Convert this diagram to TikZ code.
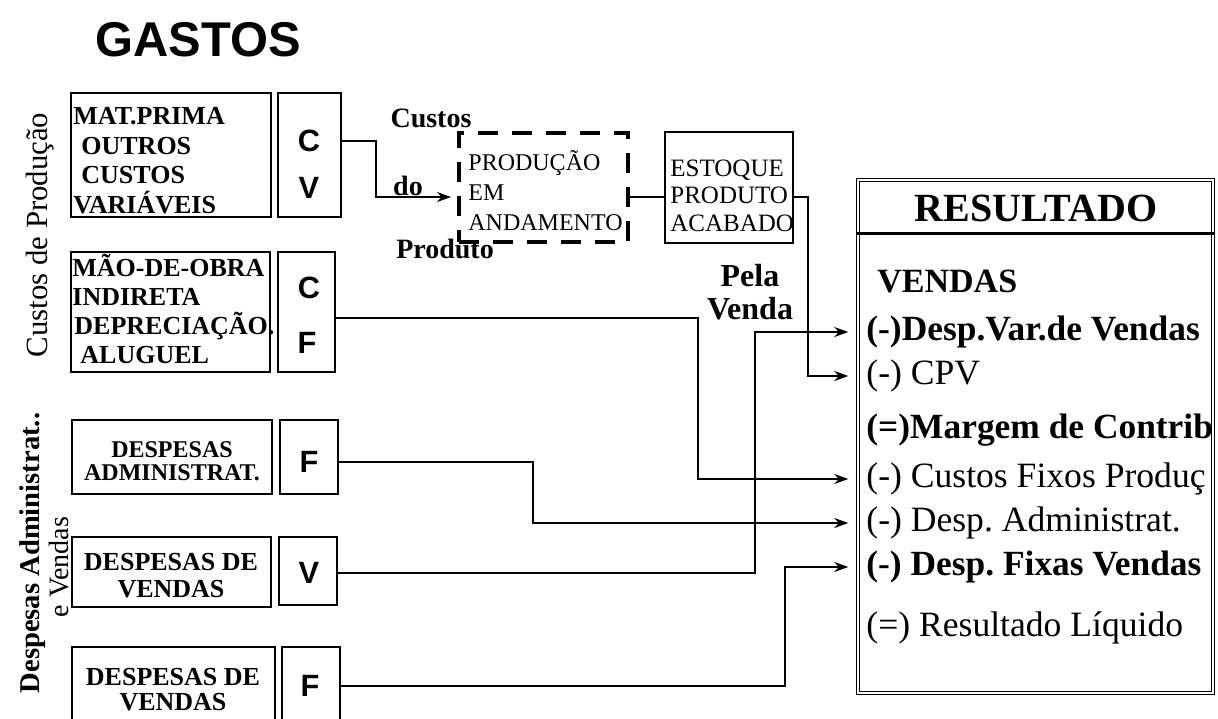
\documentclass[tikz,border=0pt]{standalone}
\usepackage{fontspec}
\setmainfont{Liberation Serif}
\newfontfamily\headfont{Liberation Sans}
\usetikzlibrary{arrows.meta,calc}
\frenchspacing

\tikzset{
  cbox/.style={draw,line width=0.9pt,inner sep=0pt},
  letter/.style={font=\headfont\bfseries\fontsize{15.4}{16}\selectfont,inner sep=0pt},
  flow/.style={line width=1pt},
  into/.style={flow,-{Stealth[length=7pt,width=5pt]},shorten >=4.5pt},
  rowtxt/.style={anchor=west,inner sep=0pt,font=\fontsize{17.8}{20}\selectfont},
  rowbold/.style={anchor=west,inner sep=0pt,font=\bfseries\fontsize{17.7}{20}\selectfont},
}

\begin{document}
\begin{tikzpicture}[x=0.5pt,y=-0.5pt]
  \useasboundingbox (0,0) rectangle (1218,718);
  \node[font=\headfont\bfseries\fontsize{24.4}{28}\selectfont] (title) at (198,40) {GASTOS};

  % side labels
  \node[rotate=90,font=\fontsize{15.4}{18}\selectfont] (sidecp) at (40,235) {Custos de Produção};
  \node[rotate=90,font=\bfseries\fontsize{14.3}{17}\selectfont] (sideda) at (33,553) {Despesas Administrat..};
  \node[rotate=90,font=\fontsize{14}{17}\selectfont] (sidev) at (59,567) {e Vendas};

  % cost boxes
  \node[cbox,minimum width=100pt,minimum height=62pt] (mp) at (171,155) {};
  \node[cbox,minimum width=31.5pt,minimum height=62pt] (cv) at (309.5,155) {};
  \node[cbox,minimum width=99.5pt,minimum height=60pt] (mo) at (170.5,312) {};
  \node[cbox,minimum width=28.5pt,minimum height=60pt] (cf) at (306.5,312) {};
  \node[cbox,minimum width=100pt,minimum height=37pt] (da) at (172,457) {};
  \node[cbox,minimum width=29pt,minimum height=37pt] (fa) at (309,457) {};
  \node[cbox,minimum width=99.5pt,minimum height=35pt] (dv) at (171.5,572) {};
  \node[cbox,minimum width=29pt,minimum height=34pt] (vv) at (308,571) {};
  \node[cbox,minimum width=101.5pt,minimum height=46.5pt] (df) at (173.5,693.5) {};
  \node[cbox,minimum width=29pt,minimum height=46.5pt] (ff) at (311,693.5) {};

  \node[anchor=west,inner sep=0pt,align=left,font=\bfseries\fontsize{13}{14.8}\selectfont] (tmp) at (73,160.5)
    {MAT.PRIMA\\\hspace*{4pt}OUTROS\\\hspace*{4pt}CUSTOS\\VARIÁVEIS};
  \node[anchor=west,inner sep=0pt,align=left,font=\bfseries\fontsize{13}{14.5}\selectfont] (tmo) at (72,308.5)
    {MÃO-DE-OBRA\\INDIRETA\\\hspace*{1pt}DEPRECIAÇÃO.\\\hspace*{4pt}ALUGUEL};
  \node[inner sep=0pt,align=center,font=\bfseries\fontsize{12}{11.5}\selectfont] (tda) at (172,461) {DESPESAS\\ADMINISTRAT.};
  \node[inner sep=0pt,align=center,font=\bfseries\fontsize{13}{13.5}\selectfont] (tdv) at (171,575.5) {DESPESAS DE\\VENDAS};
  \node[inner sep=0pt,align=center,font=\bfseries\fontsize{13}{12.5}\selectfont] (tdf) at (173,689.5) {DESPESAS DE\\VENDAS};

  \node[letter] (c1) at (309,141) {C};
  \node[letter] (v1) at (309,188) {V};
  \node[letter] (c2) at (309,288) {C};
  \node[letter] (f1) at (307,343) {F};
  \node[letter] (f2) at (309,462) {F};
  \node[letter] (v2) at (309,573) {V};
  \node[letter] (f3) at (310,686) {F};

  % production flow
  \node[draw,line width=2pt,dash pattern=on 10pt off 7pt,minimum width=84.5pt,minimum height=54.5pt,inner sep=0pt] (pa) at (543.5,187.5) {};
  \node[anchor=west,inner sep=0pt,align=left,font=\fontsize{12}{15}\selectfont] (tpa) at (468,190.5) {PRODUÇÃO\\EM\\ANDAMENTO};
  \node[cbox,minimum width=64pt,minimum height=55.5pt] (ep) at (729,187.5) {};
  \node[anchor=west,inner sep=0pt,align=left,font=\fontsize{12.5}{13.75}\selectfont] (tep) at (670,195.5) {ESTOQUE\\PRODUTO\\ACABADO};
  \coordinate (fy) at (0,197);

  \node[anchor=base,inner sep=0pt,font=\bfseries\fontsize{14}{16}\selectfont] (lcus) at (431,127) {Custos};
  \node[anchor=base,inner sep=0pt,font=\bfseries\fontsize{14}{16}\selectfont] (ldo) at (408,195) {do};
  \node[anchor=base,inner sep=0pt,font=\bfseries\fontsize{14}{16}\selectfont] (lpro) at (445,258) {Produto};
  \node[inner sep=0pt,align=center,font=\bfseries\fontsize{16}{16.5}\selectfont] (lpv) at (750,292) {Pela\\Venda};

  % result statement
  \node[draw,double,double distance=1pt,line width=0.7pt,minimum width=177.5pt,minimum height=256.5pt] (res) at (1035.5,436.5) {};
  \coordinate (sep) at (0,233);
  \draw[line width=1.5pt] (res.west |- sep) -- (res.east |- sep);
  \node[font=\bfseries\fontsize{20}{24}\selectfont,inner sep=0pt] (rhead) at (1036,208) {RESULTADO};
  \node[anchor=west,inner sep=0pt,font=\bfseries\fontsize{17}{20}\selectfont] (rven) at (877,281) {VENDAS};
  \node[rowbold] (rvar) at (866,332) {(-)Desp.Var.de Vendas};
  \node[rowtxt] (rcpv) at (866,376) {(-) CPV};
  \node[rowbold] (rmar) at (866,430) {(=)Margem de Contrib};
  \node[rowtxt] (rcus) at (866,479) {(-) Custos Fixos Produç};
  \node[rowtxt] (radm) at (866,523) {(-) Desp. Administrat.};
  \node[rowbold] (rfix) at (866,567) {(-) Desp. Fixas Vendas};
  \node[rowtxt] (rliq) at (866,628) {(=) Resultado Líquido};

  % connectors
  \draw[into,shorten >=3pt] (cv.east |- c1) -- ++(34,0) |- (pa.west |- fy);
  \draw[flow] (pa.east |- fy) -- (ep.west |- fy);
  \draw[into] (ep.east |- fy) -- ++(14,0) |- (res.west |- rcpv);
  \draw[into] ($(cf.east)+(0,6)$) -- ++(362,0) |- (res.west |- rcus);
  \draw[into] (fa.east |- f2) -- ++(194,0) |- (res.west |- radm);
  \draw[into] (vv.east |- v2) -- ++(417,0) |- (res.west |- rvar);
  \draw[into] (ff.east |- f3) -- ++(444,0) |- (res.west |- rfix);
\end{tikzpicture}
\end{document}
